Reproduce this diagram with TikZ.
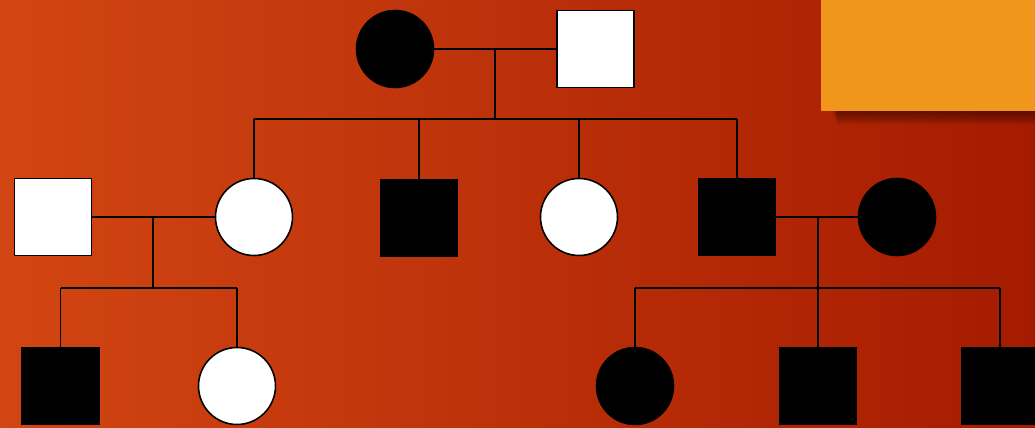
\documentclass[tikz,border=0pt]{standalone}
\usetikzlibrary{positioning}
\definecolor{bgleft}{HTML}{D24613}
\definecolor{bgright}{HTML}{A51B00}
\definecolor{tabcol}{HTML}{F0961A}
\tikzset{
  person/.style={draw=black, line width=0.9pt, minimum size=1.54cm, inner sep=0pt},
  male/.style={person, rectangle},
  female/.style={person, circle},
  aff/.style={fill=black},
  unaff/.style={fill=white},
  link/.style={line width=1.1pt, black},
}
\begin{document}
\begin{tikzpicture}[x=0.02cm, y=-0.02cm]
  % background
  \useasboundingbox (0,0) rectangle (1035,428);
  \shade[left color=bgleft, right color=bgright] (0,0) rectangle (1035,428);
  % corner tab with its shadow
  \foreach \d in {0,...,9}
    \fill[black, opacity=0.05] (832+\d*0.6,100) rectangle (1035,112+\d*1.4);
  \fill[tabcol] (821,0) rectangle (1035,111);

  % first generation
  \node[female, aff] (gm) at (395,49) {};
  \node[male, unaff] (gf) at (595.5,49) {};
  % second generation
  \node[male, unaff] (hb) at (53,217) {};
  \node[female, unaff] (d1) at (254,217) {};
  \node[male, aff] (s1) at (419,218) {};
  \node[female, unaff] (d2) at (579,217) {};
  \node[male, aff] (s2) at (737,217) {};
  \node[female, aff] (wf) at (897,217) {};
  % third generation
  \node[male, aff] (c1) at (60.5,386) {};
  \node[female, unaff] (c2) at (237,386) {};
  \node[female, aff] (c3) at (635,386) {};
  \node[male, aff] (c4) at (818,386) {};
  \node[male, aff] (c5) at (1000,386) {};

  % couple 1
  \coordinate (m1) at (495,49);
  \coordinate (k1) at (495,119);
  \draw[link] (gm.east) -- (gf.west);
  \draw[link] (m1) -- (k1);
  \draw[link] (d1 |- k1) -- (s2 |- k1);
  \foreach \c in {d1,s1,d2,s2}
    \draw[link] (\c |- k1) -- (\c.north);

  % couple 2
  \coordinate (m2) at (153,217);
  \coordinate (k2) at (153,288);
  \draw[link] (hb.east) -- (d1.west);
  \draw[link] (m2) -- (k2);
  \draw[link] (c1 |- k2) -- (c2 |- k2);
  \foreach \c in {c1,c2}
    \draw[link] (\c |- k2) -- (\c.north);

  % couple 3
  \coordinate (m3) at (818,217);
  \coordinate (k3) at (818,288);
  \draw[link] (s2.east) -- (wf.west);
  \draw[link] (m3) -- (k3);
  \draw[link] (c3 |- k3) -- (c5 |- k3);
  \foreach \c in {c3,c4,c5}
    \draw[link] (\c |- k3) -- (\c.north);
\end{tikzpicture}
\end{document}
